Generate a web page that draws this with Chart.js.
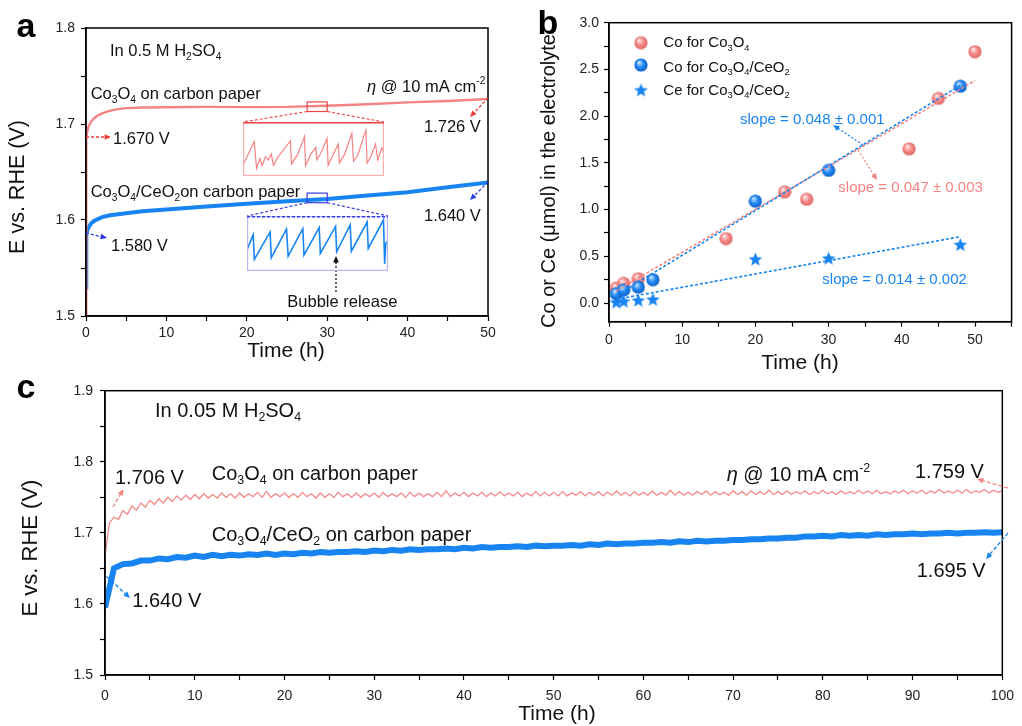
<!DOCTYPE html>
<html>
<head>
<meta charset="utf-8">
<title>Chronopotentiometry and Co/Ce leaching</title>
<script src="https://cdn.jsdelivr.net/npm/chart.js@4.4.1/dist/chart.umd.min.js"></script>
<style>
  html, body { margin: 0; padding: 0; background: #fff; }
  #stage { position: relative; width: 1022px; height: 726px; overflow: hidden; }
  #stage canvas { position: absolute; left: 0; top: 0; }
</style>
</head>
<body>
<div id="stage">
  <canvas id="chartA" width="1022" height="726"></canvas>
  <canvas id="chartB" width="1022" height="726"></canvas>
  <canvas id="chartC" width="1022" height="726"></canvas>
  <canvas id="insetCo"></canvas>
  <canvas id="insetCe"></canvas>
</div>
<script>
// ---- (a) 0.5 M H2SO4, 50 h at 10 mA cm-2 ----
const timeA  = [0, 0.02, 0.05, 0.15, 0.3, 0.6, 1, 1.5, 2, 3, 4, 5, 7, 10, 15, 20, 25, 30, 35, 40, 45, 50];
const co3o4A = [1.500, 1.660, 1.686, 1.692, 1.697, 1.702, 1.706, 1.709, 1.711, 1.714, 1.7155, 1.7165, 1.7172, 1.7175, 1.7178, 1.7176, 1.7178, 1.719, 1.7205, 1.7225, 1.724, 1.726];
const ceo2A  = [1.530, 1.575, 1.585, 1.589, 1.592, 1.596, 1.599, 1.601, 1.603, 1.605, 1.606, 1.607, 1.609, 1.611, 1.614, 1.617, 1.6195, 1.622, 1.6255, 1.629, 1.634, 1.639];

// zoomed window (27.5 - 30 h) shown in the two insets
const zoomWinT  = [27.5, 30];
const zoomWinCo = [1.713, 1.723];
const zoomWinCe = [1.618, 1.628];
const insetCoT = [27.50, 27.70, 27.74, 27.80, 27.84, 27.90, 27.95, 28.00, 28.04, 28.12, 28.34, 28.36, 28.47, 28.59, 28.61, 28.70, 28.79, 28.81, 28.88, 28.99, 29.01, 29.11, 29.19, 29.21, 29.30, 29.43, 29.46, 29.53, 29.68, 29.70, 29.77, 29.85, 29.89, 29.96, 30.00];
const insetCoE = [1.7150, 1.7194, 1.7144, 1.7162, 1.7149, 1.7166, 1.7160, 1.7171, 1.7150, 1.7165, 1.7195, 1.7152, 1.7170, 1.7203, 1.7149, 1.7170, 1.7183, 1.7160, 1.7172, 1.7199, 1.7150, 1.7172, 1.7189, 1.7154, 1.7170, 1.7209, 1.7157, 1.7167, 1.7215, 1.7154, 1.7167, 1.7189, 1.7160, 1.7182, 1.7174];
const insetCeT = [27.51, 27.61, 27.63, 27.91, 27.93, 28.20, 28.23, 28.49, 28.51, 28.78, 28.80, 29.07, 29.09, 29.33, 29.35, 29.63, 29.65, 29.92, 29.94, 29.96, 29.99];
const insetCeE = [1.6221, 1.6246, 1.6201, 1.6251, 1.6204, 1.6256, 1.6207, 1.6257, 1.6209, 1.6259, 1.6212, 1.6261, 1.6215, 1.6264, 1.6216, 1.6269, 1.6221, 1.6273, 1.6193, 1.6230, 1.6234];

// ---- (b) dissolved Co / Ce (umol) ----
const timeCoA   = [1, 2, 4, 16, 24, 27, 41, 45, 50];
const coCo3o4   = [0.16, 0.21, 0.26, 0.69, 1.19, 1.11, 1.65, 2.19, 2.69];
const timeCoB   = [1, 2, 4, 6, 20, 30, 48];
const coCeo2    = [0.10, 0.14, 0.17, 0.25, 1.09, 1.42, 2.32];
const timeCe    = [1, 2, 4, 6, 20, 30, 48];
const ceCeo2    = [0.01, 0.02, 0.03, 0.04, 0.47, 0.48, 0.625];
const fitCoAT = [1, 50], fitCoAV = [0.13, 2.38];
const fitCoBT = [1, 48], fitCoBV = [0.08, 2.33];
const fitCeT  = [1, 48], fitCeV  = [0.04, 0.71];

// ---- (c) 0.05 M H2SO4, 100 h ----
const stepPinkC = 0.5;   // h between samples
const co3o4C = [
  1.668, 1.714, 1.722, 1.719, 1.731, 1.726, 1.738, 1.732, 1.742, 1.736,
  1.746, 1.740, 1.748, 1.742, 1.750, 1.744, 1.752, 1.746, 1.753, 1.747,
  1.754, 1.748, 1.755, 1.749, 1.754, 1.749, 1.756, 1.750, 1.755, 1.749,
  1.756, 1.750, 1.755, 1.751, 1.757, 1.750, 1.758, 1.750, 1.755, 1.751,
  1.756, 1.750, 1.755, 1.750, 1.757, 1.751, 1.755, 1.749, 1.756, 1.750,
  1.755, 1.750, 1.757, 1.751, 1.755, 1.750, 1.756, 1.750, 1.755, 1.751,
  1.756, 1.750, 1.757, 1.751, 1.755, 1.751, 1.756, 1.750, 1.757, 1.751,
  1.756, 1.751, 1.755, 1.751, 1.757, 1.751, 1.759, 1.751, 1.756, 1.752,
  1.757, 1.751, 1.756, 1.752, 1.757, 1.751, 1.756, 1.752, 1.758, 1.752,
  1.756, 1.752, 1.757, 1.751, 1.756, 1.752, 1.758, 1.752, 1.757, 1.752,
  1.757, 1.752, 1.758, 1.752, 1.756, 1.753, 1.758, 1.752, 1.757, 1.753,
  1.758, 1.752, 1.757, 1.753, 1.759, 1.753, 1.757, 1.752, 1.758, 1.753,
  1.757, 1.753, 1.759, 1.753, 1.757, 1.753, 1.760, 1.753, 1.758, 1.753,
  1.757, 1.753, 1.758, 1.754, 1.759, 1.753, 1.758, 1.754, 1.757, 1.753,
  1.759, 1.754, 1.758, 1.753, 1.759, 1.754, 1.758, 1.754, 1.760, 1.754,
  1.758, 1.754, 1.759, 1.754, 1.758, 1.755, 1.759, 1.754, 1.758, 1.755,
  1.760, 1.755, 1.758, 1.754, 1.759, 1.755, 1.758, 1.755, 1.760, 1.755,
  1.759, 1.755, 1.760, 1.755, 1.758, 1.755, 1.759, 1.756, 1.760, 1.755,
  1.759, 1.756, 1.760, 1.755, 1.759, 1.756, 1.761, 1.756, 1.759, 1.756,
  1.760, 1.756, 1.761, 1.756, 1.759, 1.757, 1.761, 1.756, 1.760, 1.757,
  1.759
];
const stepBlueC = 1;     // h between samples
const ceo2C = [
  1.595,
  1.650, 1.656, 1.657, 1.661, 1.661, 1.664, 1.663, 1.666, 1.665, 1.668,
  1.666, 1.669, 1.667, 1.669, 1.668, 1.670, 1.669, 1.671, 1.669, 1.671,
  1.670, 1.672, 1.671, 1.673, 1.672, 1.673, 1.673, 1.674, 1.673, 1.675,
  1.674, 1.676, 1.675, 1.677, 1.676, 1.677, 1.677, 1.678, 1.677, 1.679,
  1.678, 1.680, 1.679, 1.680, 1.680, 1.681, 1.680, 1.682, 1.681, 1.682,
  1.682, 1.683, 1.682, 1.684, 1.683, 1.685, 1.684, 1.685, 1.685, 1.686,
  1.686, 1.687, 1.686, 1.688, 1.687, 1.689, 1.688, 1.689, 1.689, 1.690,
  1.690, 1.691, 1.691, 1.692, 1.692, 1.693, 1.693, 1.695, 1.695, 1.696,
  1.695, 1.697, 1.696, 1.697, 1.696, 1.698, 1.697, 1.698, 1.698, 1.699,
  1.698, 1.699, 1.699, 1.700, 1.699, 1.700, 1.700, 1.701, 1.700, 1.701
];

// ticks (minor ticks included, labels only on the majors)
const aXTicks = [0, 5, 10, 15, 20, 25, 30, 35, 40, 45, 50];
const aXLabels = [0, 10, 20, 30, 40, 50];
const aYTicks = [1.5, 1.55, 1.6, 1.65, 1.7, 1.75, 1.8];
const aYLabels = [1.5, 1.6, 1.7, 1.8];
const bXTicks = [0, 5, 10, 15, 20, 25, 30, 35, 40, 45, 50, 55];
const bXLabels = [0, 10, 20, 30, 40, 50];
const bYTicks = [0, 0.25, 0.5, 0.75, 1, 1.25, 1.5, 1.75, 2, 2.25, 2.5, 2.75, 3];
const bYLabels = [0, 0.5, 1, 1.5, 2, 2.5, 3];
const cXTicks = [0, 5, 10, 15, 20, 25, 30, 35, 40, 45, 50, 55, 60, 65, 70, 75, 80, 85, 90, 95, 100];
const cXLabels = [0, 10, 20, 30, 40, 50, 60, 70, 80, 90, 100];
const cYTicks = [1.5, 1.55, 1.6, 1.65, 1.7, 1.75, 1.8, 1.85, 1.9];
const cYLabels = [1.5, 1.6, 1.7, 1.8, 1.9];

// ---- styling ----
const FONT = '"Liberation Sans", Arial, sans-serif';
const PINK = '#f58383';
const BLUE = '#1784f2';
const TXT = '#111';
Chart.defaults.font.family = FONT;

const insetCoBox = { left: 243, top: 122, w: 141, h: 54 };
const insetCeBox = { left: 247, top: 216, w: 141, h: 55 };

function pairs(xs, ys) { return xs.map((x, i) => ({ x: x, y: ys[i] })); }
function gridPairs(step, ys) { return ys.map((y, i) => ({ x: i * step, y: y })); }

// text with _{sub}, ^{sup}, !{italic}
function richText(ctx, str, x, y, size, color) {
  const re = /([_^!])\{([^}]*)\}/g;
  const parts = [];
  let last = 0, m;
  while ((m = re.exec(str))) {
    if (m.index > last) parts.push({ t: str.slice(last, m.index), k: '' });
    parts.push({ t: m[2], k: m[1] });
    last = re.lastIndex;
  }
  if (last < str.length) parts.push({ t: str.slice(last), k: '' });
  ctx.save();
  ctx.fillStyle = color;
  ctx.textAlign = 'left';
  ctx.textBaseline = 'alphabetic';
  let cx = x;
  parts.forEach(p => {
    let fs = size, dy = 0, st = '';
    if (p.k === '_') { fs = size * 0.62; dy = size * 0.22; }
    if (p.k === '^') { fs = size * 0.62; dy = -size * 0.45; }
    if (p.k === '!') { st = 'italic '; }
    ctx.font = st + fs + 'px ' + FONT;
    ctx.fillText(p.t, cx, y + dy);
    cx += ctx.measureText(p.t).width;
  });
  ctx.restore();
}

function plainText(ctx, str, x, y, font, color, align, rot) {
  ctx.save();
  ctx.translate(x, y);
  if (rot) ctx.rotate(rot);
  ctx.font = font;
  ctx.fillStyle = color;
  ctx.textAlign = align || 'center';
  ctx.textBaseline = 'middle';
  ctx.fillText(str, 0, 0);
  ctx.restore();
}

function arrow(ctx, x1, y1, x2, y2, color, dash) {
  const ang = Math.atan2(y2 - y1, x2 - x1);
  const head = 7;
  ctx.save();
  ctx.strokeStyle = color;
  ctx.fillStyle = color;
  ctx.lineWidth = 1.3;
  ctx.setLineDash(dash);
  ctx.beginPath();
  ctx.moveTo(x1, y1);
  ctx.lineTo(x2 - head * 0.8 * Math.cos(ang), y2 - head * 0.8 * Math.sin(ang));
  ctx.stroke();
  ctx.setLineDash([]);
  ctx.beginPath();
  ctx.moveTo(x2, y2);
  ctx.lineTo(x2 - head * Math.cos(ang - 0.42), y2 - head * Math.sin(ang - 0.42));
  ctx.lineTo(x2 - head * Math.cos(ang + 0.42), y2 - head * Math.sin(ang + 0.42));
  ctx.closePath();
  ctx.fill();
  ctx.restore();
}

function line(ctx, x1, y1, x2, y2, color, dash, w) {
  ctx.save();
  ctx.strokeStyle = color;
  ctx.lineWidth = w || 1.2;
  ctx.setLineDash(dash || []);
  ctx.beginPath();
  ctx.moveTo(x1, y1);
  ctx.lineTo(x2, y2);
  ctx.stroke();
  ctx.restore();
}

// shaded ball and star markers for panel b
function sphere(light, mid, dark, d) {
  const c = document.createElement('canvas');
  c.width = c.height = d;
  const g = c.getContext('2d');
  const r = d / 2;
  const grad = g.createRadialGradient(r * 0.72, r * 0.62, r * 0.08, r, r, r);
  grad.addColorStop(0, light);
  grad.addColorStop(0.5, mid);
  grad.addColorStop(1, dark);
  g.fillStyle = grad;
  g.beginPath();
  g.arc(r, r, r - 0.4, 0, Math.PI * 2);
  g.fill();
  return c;
}
function star(color, d) {
  const c = document.createElement('canvas');
  c.width = c.height = d;
  const g = c.getContext('2d');
  const r = d / 2, ri = r * 0.42;
  g.fillStyle = color;
  g.beginPath();
  for (let i = 0; i < 10; i++) {
    const rr = i % 2 ? ri : r - 0.3;
    const a = -Math.PI / 2 + i * Math.PI / 5;
    const px = r + rr * Math.cos(a), py = r + 0.6 + rr * Math.sin(a);
    if (i === 0) g.moveTo(px, py); else g.lineTo(px, py);
  }
  g.closePath();
  g.fill();
  return c;
}
const ballPink = sphere('#ffe4e4', '#f58a8a', '#de6464', 14);
const ballBlue = sphere('#c4e2ff', '#2289f2', '#0a5cc4', 14);
const starBlue = star('#1784f2', 15);

function scaleOpts(min, max, tickVals, labelVals, digits, fit, isX, pad) {
  return {
    type: 'linear', min: min, max: max, bounds: 'data',
    afterBuildTicks: s => { s.ticks = tickVals.map(v => ({ value: v })); },
    afterFit: s => { if (isX) s.height = fit; else s.width = fit; },
    ticks: {
      autoSkip: false, maxRotation: 0, padding: pad,
      color: '#222',
      font: { family: FONT, size: 14 },
      callback: v => labelVals.some(l => Math.abs(l - v) < 1e-9) ? v.toFixed(digits) : ''
    },
    grid: { drawOnChartArea: false, drawTicks: true, tickLength: 5, tickWidth: 1.2, tickColor: '#000' },
    border: { display: true, color: '#000', width: 1.5 }
  };
}

function baseOptions(padding, xs, ys) {
  return {
    responsive: false, animation: false, events: [],
    layout: { padding: padding },
    plugins: { legend: { display: false }, tooltip: { enabled: false } },
    scales: { x: xs, y: ys }
  };
}

const frame = {
  id: 'frame',
  afterDraw(chart) {
    const a = chart.chartArea, g = chart.ctx;
    g.save();
    g.strokeStyle = '#000';
    g.lineWidth = 1.5;
    g.strokeRect(a.left, a.top, a.right - a.left, a.bottom - a.top);
    g.restore();
  }
};

// ---------------- panel a ----------------
new Chart(document.getElementById('chartA'), {
  type: 'scatter',
  data: { datasets: [
    { data: pairs(timeA, co3o4A), showLine: true, borderColor: PINK, borderWidth: 2.4, pointRadius: 0 },
    { data: pairs(timeA, ceo2A), showLine: true, borderColor: BLUE, borderWidth: 4, pointRadius: 0 }
  ]},
  options: baseOptions({ left: 36, right: 534, top: 28, bottom: 370 },
    scaleOpts(0, 50, aXTicks, aXLabels, 0, 40, true, 4),
    scaleOpts(1.5, 1.8, aYTicks, aYLabels, 1, 50, false, 6)),
  plugins: [frame, {
    id: 'decorA',
    afterDraw(chart) {
      const g = chart.ctx, sx = chart.scales.x, sy = chart.scales.y;
      const x0 = sx.getPixelForValue(zoomWinT[0]), x1 = sx.getPixelForValue(zoomWinT[1]);
      // zoom windows and connectors
      const pT = sy.getPixelForValue(zoomWinCo[1]), pB = sy.getPixelForValue(zoomWinCo[0]);
      g.save(); g.strokeStyle = '#e84848'; g.lineWidth = 1.2; g.strokeRect(x0, pT, x1 - x0, pB - pT); g.restore();
      line(g, x0, pB, insetCoBox.left, insetCoBox.top, '#ee5050', [3, 2]);
      line(g, x1, pB, insetCoBox.left + insetCoBox.w, insetCoBox.top, '#ee5050', [3, 2]);
      const bT = sy.getPixelForValue(zoomWinCe[1]), bB = sy.getPixelForValue(zoomWinCe[0]);
      g.save(); g.strokeStyle = '#3a3ae0'; g.lineWidth = 1.2; g.strokeRect(x0, bT, x1 - x0, bB - bT); g.restore();
      line(g, x0, bB, insetCeBox.left, insetCeBox.top, '#3a3ae0', [3, 2]);
      line(g, x1, bB, insetCeBox.left + insetCeBox.w, insetCeBox.top, '#3a3ae0', [3, 2]);

      const fs = 16.5;
      richText(g, 'In 0.5 M H_{2}SO_{4}', 110, 56, fs, TXT);
      richText(g, 'Co_{3}O_{4} on carbon paper', 90.7, 99, fs, TXT);
      richText(g, '!{η} @ 10 mA cm^{-2}', 367, 91.7, fs, TXT);
      richText(g, '1.726 V', 424, 132.3, fs, TXT);
      richText(g, '1.670 V', 113, 144, fs, TXT);
      richText(g, 'Co_{3}O_{4}/CeO_{2}on carbon paper', 90.7, 197.3, fs, TXT);
      richText(g, '1.640 V', 424, 221, fs, TXT);
      richText(g, '1.580 V', 111, 250.7, fs, TXT);
      richText(g, 'Bubble release', 287.3, 307.3, fs, TXT);

      arrow(g, 488, 98, 470, 117, '#f03a3a', [3, 2]);
      arrow(g, 86, 137, 111, 137, '#f03a3a', [3, 2]);
      arrow(g, 488, 182, 470, 200, '#2a3ae8', [3, 2]);
      arrow(g, 86, 233, 107, 238, '#2a3ae8', [3, 2]);
      arrow(g, 336, 292, 336, 256, '#111', [2, 2]);

      plainText(g, 'a', 26, 28, 'bold 34px ' + FONT, '#000');
      plainText(g, 'E vs. RHE (V)', 18.5, 187, '21.5px ' + FONT, TXT, 'center', -Math.PI / 2);
      plainText(g, 'Time (h)', 286, 351, '21px ' + FONT, TXT);
    }
  }]
});

// insets of panel a
function insetChart(id, box, t, e, yRange, color, width, edge, topColor, topDash) {
  const el = document.getElementById(id);
  el.width = box.w; el.height = box.h;
  el.style.left = box.left + 'px'; el.style.top = box.top + 'px';
  new Chart(el, {
    type: 'scatter',
    data: { datasets: [{ data: pairs(t, e), showLine: true, borderColor: color, borderWidth: width, pointRadius: 0 }] },
    options: {
      responsive: false, animation: false, events: [],
      layout: { padding: 0 },
      plugins: { legend: { display: false }, tooltip: { enabled: false } },
      scales: {
        x: { display: false, min: zoomWinT[0], max: zoomWinT[1] },
        y: { display: false, min: yRange[0], max: yRange[1] }
      }
    },
    plugins: [{
      id: 'insetFrame',
      afterDraw(c) {
        const g = c.ctx, w = c.width, h = c.height;
        g.save();
        g.strokeStyle = edge; g.lineWidth = 1.2;
        g.strokeRect(0.6, 0.6, w - 1.2, h - 1.2);
        g.restore();
        line(g, 0, 0.8, w, 0.8, topColor, topDash, 1.4);
      }
    }]
  });
}
insetChart('insetCo', insetCoBox, insetCoT, insetCoE, zoomWinCo, PINK, 1.2, '#f7b0b0', '#ef4646', []);
insetChart('insetCe', insetCeBox, insetCeT, insetCeE, zoomWinCe, BLUE, 1.6, '#b4b8f2', '#3a3ae0', [3, 2]);

// ---------------- panel b ----------------
new Chart(document.getElementById('chartB'), {
  type: 'scatter',
  data: { datasets: [
    { data: pairs(fitCoBT, fitCoBV), showLine: true, borderColor: BLUE, borderWidth: 1.6, borderDash: [3, 2], pointRadius: 0 },
    { data: pairs(fitCeT, fitCeV), showLine: true, borderColor: BLUE, borderWidth: 1.6, borderDash: [3, 2], pointRadius: 0 },
    { data: pairs(fitCoAT, fitCoAV), showLine: true, borderColor: PINK, borderWidth: 1.6, borderDash: [3, 2], pointRadius: 0 },
    { data: pairs(timeCoB, coCeo2), pointStyle: ballBlue, pointRadius: 7 },
    { data: pairs(timeCe, ceCeo2), pointStyle: starBlue, pointRadius: 7 },
    { data: pairs(timeCoA, coCo3o4), pointStyle: ballPink, pointRadius: 7 }
  ]},
  options: baseOptions({ left: 564, right: 10.4, top: 22.7, bottom: 364.3 },
    scaleOpts(0, 55, bXTicks, bXLabels, 0, 40, true, 5),
    scaleOpts(-0.2, 3.0, bYTicks, bYLabels, 1, 45, false, 5)),
  plugins: [frame, {
    id: 'decorB',
    afterDraw(chart) {
      const g = chart.ctx;
      // legend
      const leg = [[ballPink, 'Co for Co_{3}O_{4}', 42.7, 47.3],
                   [ballBlue, 'Co for Co_{3}O_{4}/CeO_{2}', 65, 71.7],
                   [starBlue, 'Ce for Co_{3}O_{4}/CeO_{2}', 90, 95]];
      leg.forEach(l => {
        g.drawImage(l[0], 641 - l[0].width / 2, l[2] - l[0].height / 2);
        richText(g, l[1], 663.3, l[3], 15, TXT);
      });
      richText(g, 'slope = 0.048 ± 0.001', 740, 124, 15, BLUE);
      richText(g, 'slope = 0.047 ± 0.003', 838.3, 191.7, 15, PINK);
      richText(g, 'slope = 0.014 ± 0.002', 822.3, 284, 15, BLUE);
      arrow(g, 863, 145, 833, 125, BLUE, [2, 2]);
      arrow(g, 858, 150, 877, 180, PINK, [2, 2]);

      plainText(g, 'b', 548, 25, 'bold 34px ' + FONT, '#000');
      plainText(g, 'Co or Ce (μmol) in the electrolyte', 549, 181, '20px ' + FONT, TXT, 'center', -Math.PI / 2);
      plainText(g, 'Time (h)', 800, 363, '21px ' + FONT, TXT);
    }
  }]
});

// ---------------- panel c ----------------
new Chart(document.getElementById('chartC'), {
  type: 'scatter',
  data: { datasets: [
    { data: gridPairs(stepPinkC, co3o4C), showLine: true, borderColor: '#f78888', borderWidth: 1.3, pointRadius: 0 },
    { data: gridPairs(stepBlueC, ceo2C), showLine: true, borderColor: BLUE, borderWidth: 6, pointRadius: 0 }
  ]},
  options: baseOptions({ left: 60, right: 15, top: 390.7, bottom: 11 },
    scaleOpts(0, 100, cXTicks, cXLabels, 0, 40, true, 8),
    scaleOpts(1.5, 1.9, cYTicks, cYLabels, 1, 45, false, 7)),
  plugins: [frame, {
    id: 'decorC',
    afterDraw(chart) {
      const g = chart.ctx, fs = 20;
      richText(g, 'In 0.05 M H_{2}SO_{4}', 155, 416.7, fs, TXT);
      richText(g, '1.706 V', 115, 484.3, fs, TXT);
      richText(g, 'Co_{3}O_{4} on carbon paper', 211.7, 480, fs, TXT);
      richText(g, 'Co_{3}O_{4}/CeO_{2} on carbon paper', 211.7, 540.7, fs, TXT);
      richText(g, '1.640 V', 132.3, 606.7, fs, TXT);
      richText(g, '!{η} @ 10 mA cm^{-2}', 726.7, 480.7, fs, TXT);
      richText(g, '1.759 V', 915, 478.3, fs, TXT);
      richText(g, '1.695 V', 916.7, 577.3, fs, TXT);

      arrow(g, 113, 507, 123.5, 489, PINK, [4, 2]);
      arrow(g, 106.5, 576.5, 130, 598, BLUE, [4, 2]);
      arrow(g, 1008, 488, 977, 479, PINK, [4, 2]);
      arrow(g, 1008, 533, 986, 559, BLUE, [4, 2]);

      plainText(g, 'c', 26, 389, 'bold 34px ' + FONT, '#000');
      plainText(g, 'E vs. RHE (V)', 31, 548, '22px ' + FONT, TXT, 'center', -Math.PI / 2);
      plainText(g, 'Time (h)', 557, 714, '21px ' + FONT, TXT);
    }
  }]
});
</script>
</body>
</html>
